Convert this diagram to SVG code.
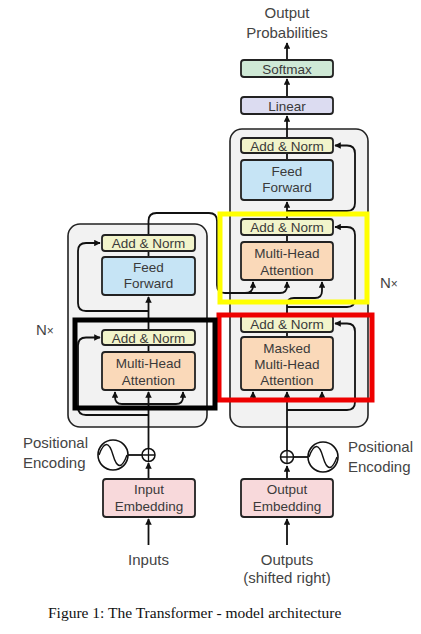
<svg xmlns="http://www.w3.org/2000/svg" width="421" height="634" viewBox="0 0 421 634">
<defs>
<marker id="ah" viewBox="0 0 10 10" refX="9" refY="5" markerWidth="3.6" markerHeight="3.6" orient="auto" markerUnits="strokeWidth">
<path d="M0,0 L10,5 L0,10 z" fill="#111"/>
</marker>
<style>
.t{font-family:"Liberation Sans",Arial,sans-serif;font-size:13.5px;fill:#3a3a3a;text-anchor:middle}
.lb{font-family:"Liberation Sans",Arial,sans-serif;font-size:15px;fill:#444}
.outer{fill:#f2f2f2;stroke:#222;stroke-width:1.6}
.box{stroke:#222;stroke-width:1.8}
.an{fill:#f2f4cb}
.ff{fill:#c6e4f5}
.mha{fill:#fad9b9}
.emb{fill:#f8d9db}
.sm{fill:#cfe9d6}
.lin{fill:#dcdcf1}
.c{fill:none;stroke:#111;stroke-width:1.8}
.ca{fill:none;stroke:#111;stroke-width:1.8;marker-end:url(#ah)}
.hl{fill:none;stroke-width:5}
</style>
</defs>
<rect width="421" height="634" fill="#fff"/>

<g id="encoder-block"><rect class="outer" x="68" y="224" width="139" height="203" rx="12"/></g>
<g id="decoder-block"><rect class="outer" x="230" y="129" width="138" height="298" rx="12"/></g>

<g id="connectors">
<path class="ca" d="M148.5,545 V519"/>
<path class="ca" d="M148.5,479 V463"/>
<path class="c" d="M128,455 H142"/>
<path class="ca" d="M148.5,448.5 V392"/>
<path class="ca" d="M148.5,404 H122 Q115,404 115,397 V392"/>
<path class="ca" d="M148.5,404 H176 Q183,404 183,397 V392"/>
<path class="ca" d="M148.5,415 H86 Q78,415 78,407 V345.5 Q78,337.5 86,337.5 H100"/>
<path class="c" d="M148.5,352 V345"/>
<path class="ca" d="M148.5,330 V297"/>
<path class="ca" d="M148.5,311 H86 Q78,311 78,303 V251 Q78,243 86,243 H100"/>
<path class="c" d="M148.5,257 V251"/>
<path class="ca" d="M148.5,235 V221 Q148.5,213 156.5,213 H209 Q217,213 217,221 V285 Q217,293 225,293 H245 Q253,293 253,286 V282"/>
<path class="ca" d="M245,293 H280 Q287,293 287,286 V282"/>
<path class="ca" d="M287,545 V519"/>
<path class="ca" d="M287,479 V466"/>
<path class="c" d="M293.5,457 H308"/>
<path class="ca" d="M287,450.5 V392"/>
<path class="ca" d="M287,400 H260 Q253,400 253,395 V392"/>
<path class="ca" d="M287,400 H315 Q322,400 322,395 V392"/>
<path class="ca" d="M287,410 H347 Q355,410 355,402 V331.5 Q355,323.5 347,323.5 H335"/>
<path class="c" d="M287,337 V332"/>
<path class="ca" d="M287,315 V305 Q287,298 294,298 H315 Q322,298 322,291 V282"/>
<path class="ca" d="M287,307 H347 Q355,307 355,299 V235 Q355,227 347,227 H335"/>
<path class="c" d="M287,242 V235"/>
<path class="ca" d="M287,219 V202"/>
<path class="ca" d="M287,211 H347 Q355,211 355,203 V153.5 Q355,145.5 347,145.5 H335"/>
<path class="c" d="M287,160 V153"/>
<path class="ca" d="M287,138 V116"/>
<path class="ca" d="M287,97 V79"/>
<path class="ca" d="M287,60 V43"/>
</g>

<g id="enc-pos">
<circle cx="113" cy="455" r="15" fill="#fff" stroke="#111" stroke-width="1.6"/>
<path d="M99,455 C104,441 109,441 113,455 C117,469 122,469 127,455" fill="none" stroke="#111" stroke-width="1.4"/>
</g>
<g id="enc-add">
<circle cx="148.5" cy="455" r="6.5" fill="#fff" stroke="#111" stroke-width="1.5"/>
<path d="M142,455 H155 M148.5,448.5 V461.5" stroke="#111" stroke-width="1.3"/>
</g>
<g id="dec-pos">
<circle cx="323" cy="457" r="15" fill="#fff" stroke="#111" stroke-width="1.6"/>
<path d="M309,457 C314,443 319,443 323,457 C327,471 332,471 337,457" fill="none" stroke="#111" stroke-width="1.4"/>
</g>
<g id="dec-add">
<circle cx="287" cy="457" r="6.5" fill="#fff" stroke="#111" stroke-width="1.5"/>
<path d="M280.5,457 H293.5 M287,450.5 V463.5" stroke="#111" stroke-width="1.3"/>
</g>

<g id="enc-addnorm2"><rect class="box an" x="102" y="235" width="93" height="16" rx="3"/><text class="t" x="148.5" y="248">Add &amp; Norm</text></g>
<g id="enc-ff"><rect class="box ff" x="102" y="257" width="93" height="38" rx="3"/><text class="t" x="148.5" y="272">Feed</text><text class="t" x="148.5" y="288">Forward</text></g>
<g id="enc-addnorm1"><rect class="box an" x="102" y="330" width="93" height="15" rx="3"/><text class="t" x="148.5" y="342.5">Add &amp; Norm</text></g>
<g id="enc-mha"><rect class="box mha" x="102" y="352" width="93" height="38" rx="3"/><text class="t" x="148.5" y="368">Multi-Head</text><text class="t" x="148.5" y="384.5">Attention</text></g>
<g id="input-emb"><rect class="box emb" x="103" y="479" width="92" height="38" rx="3"/><text class="t" x="149" y="494">Input</text><text class="t" x="149" y="511">Embedding</text></g>

<g id="dec-addnorm3"><rect class="box an" x="241" y="138" width="92" height="15" rx="3"/><text class="t" x="287" y="150.5">Add &amp; Norm</text></g>
<g id="dec-ff"><rect class="box ff" x="241" y="160" width="92" height="40" rx="3"/><text class="t" x="287" y="175.5">Feed</text><text class="t" x="287" y="192">Forward</text></g>
<g id="dec-addnorm2"><rect class="box an" x="241" y="219" width="92" height="16" rx="3"/><text class="t" x="287" y="232">Add &amp; Norm</text></g>
<g id="dec-mha"><rect class="box mha" x="241" y="242" width="92" height="38" rx="3"/><text class="t" x="287" y="258">Multi-Head</text><text class="t" x="287" y="275">Attention</text></g>
<g id="dec-addnorm1"><rect class="box an" x="241" y="315" width="92" height="17" rx="3"/><text class="t" x="287" y="328.5">Add &amp; Norm</text></g>
<g id="dec-mmha"><rect class="box mha" x="241" y="337" width="92" height="53" rx="3"/><text class="t" x="287" y="353">Masked</text><text class="t" x="287" y="369">Multi-Head</text><text class="t" x="287" y="385">Attention</text></g>
<g id="output-emb"><rect class="box emb" x="241" y="479" width="92" height="38" rx="3"/><text class="t" x="287" y="494">Output</text><text class="t" x="287" y="511">Embedding</text></g>
<g id="linear"><rect class="box lin" x="241" y="97" width="92" height="17" rx="3"/><text class="t" x="287" y="110.5">Linear</text></g>
<g id="softmax"><rect class="box sm" x="241" y="60" width="92" height="17" rx="3"/><text class="t" x="287" y="73.5">Softmax</text></g>

<g id="labels">
<text class="lb" x="287" y="18" text-anchor="middle">Output</text>
<text class="lb" x="287" y="38" text-anchor="middle">Probabilities</text>
<text class="lb" x="23" y="448">Positional</text>
<text class="lb" x="23" y="468">Encoding</text>
<text class="lb" x="348" y="452">Positional</text>
<text class="lb" x="348" y="472">Encoding</text>
<text class="lb" x="148.5" y="565" text-anchor="middle">Inputs</text>
<text class="lb" x="287" y="565" text-anchor="middle">Outputs</text>
<text class="lb" x="287" y="583" text-anchor="middle">(shifted right)</text>
<text class="lb" x="36" y="335">N<tspan font-size="12">×</tspan></text>
<text class="lb" x="380" y="288">N<tspan font-size="12">×</tspan></text>
</g>

<g id="highlights">
<rect class="hl" x="220" y="214" width="147" height="88" stroke="#ffff00"/>
<rect class="hl" x="219" y="315" width="153" height="85" stroke="#ee0000"/>
<rect class="hl" x="75" y="320" width="140" height="88" stroke="#000"/>
</g>

<text x="48" y="618" font-family="'Liberation Serif','Times New Roman',serif" font-size="15.5" fill="#111">Figure 1: The Transformer - model architecture</text>
</svg>
